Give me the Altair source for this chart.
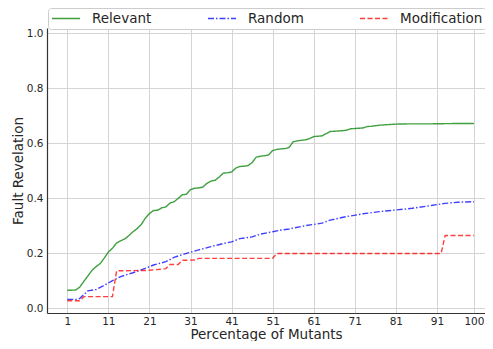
import altair as alt
import pandas as pd

series_names = ["Relevant", "Random", "Modification"]
series_colors = ["#008000", "#0000ff", "#ff0000"]
series_dashes = [[1, 0], [6, 2, 1.5, 2], [5, 2.5]]

x_ticks = [1, 11, 21, 31, 41, 51, 61, 71, 81, 91, 100]
y_ticks = [0.0, 0.2, 0.4, 0.6, 0.8, 1.0]

rel_x = [1, 3, 4, 5, 6, 7, 8, 9, 10, 11, 12, 13, 14, 15, 16, 17, 18, 19, 20,
         21, 22, 23, 24, 25, 26, 27, 28, 29, 30, 31, 32, 33, 34, 35, 36, 37,
         38, 39, 40, 41, 42, 43, 44, 45, 46, 47, 48, 49, 50, 51, 52, 53, 54,
         55, 56, 57, 58, 59, 60, 61, 62, 63, 64, 65, 66, 67, 68, 69, 70, 71,
         72, 73, 74, 75, 76, 77, 78, 79, 80, 81, 85, 90, 95, 100]
rel_y = [0.066, 0.067, 0.077, 0.098, 0.118, 0.138, 0.152, 0.163, 0.183, 0.205,
         0.219, 0.238, 0.246, 0.253, 0.265, 0.279, 0.290, 0.305, 0.328, 0.345,
         0.356, 0.357, 0.366, 0.369, 0.383, 0.388, 0.400, 0.413, 0.415, 0.432,
         0.437, 0.438, 0.441, 0.455, 0.463, 0.466, 0.478, 0.492, 0.493, 0.496,
         0.510, 0.516, 0.517, 0.519, 0.530, 0.550, 0.553, 0.555, 0.558, 0.574,
         0.578, 0.580, 0.581, 0.585, 0.606, 0.609, 0.611, 0.613, 0.617, 0.625,
         0.626, 0.627, 0.635, 0.643, 0.644, 0.645, 0.646, 0.648, 0.653, 0.654,
         0.655, 0.656, 0.661, 0.662, 0.664, 0.666, 0.667, 0.668, 0.669, 0.670,
         0.671, 0.671, 0.672, 0.672]

rnd_x = [1, 3, 4, 5, 6, 8, 10, 12, 14, 17, 19, 22, 25, 27, 30, 33, 36, 39, 41,
         43, 46, 48, 51, 53, 55, 59, 63, 65, 69, 73, 77, 81, 85, 89, 93, 96, 100]
rnd_y = [0.033, 0.033, 0.036, 0.050, 0.064, 0.069, 0.084, 0.101, 0.116, 0.130,
         0.140, 0.158, 0.170, 0.186, 0.200, 0.213, 0.225, 0.236, 0.242, 0.254,
         0.260, 0.270, 0.279, 0.285, 0.289, 0.301, 0.310, 0.321, 0.334, 0.344,
         0.352, 0.358, 0.364, 0.373, 0.382, 0.386, 0.388]

mod_x = [1, 4, 5, 12, 13, 20, 24, 25, 26, 28, 29, 32, 33, 51, 52, 92, 93, 100]
mod_y = [0.028, 0.028, 0.043, 0.043, 0.137, 0.138, 0.143, 0.145, 0.160, 0.160,
         0.175, 0.176, 0.182, 0.182, 0.200, 0.200, 0.265, 0.265]

rows = []
for name, xs, ys in [("Relevant", rel_x, rel_y), ("Random", rnd_x, rnd_y),
                     ("Modification", mod_x, mod_y)]:
    for xv, yv in zip(xs, ys):
        rows.append({"pct": xv, "fr": yv, "series": name})
df = pd.DataFrame(rows)

legend = alt.Legend(
    orient="none", legendX=1, legendY=-20, direction="horizontal", title=None,
    symbolType="stroke", symbolSize=784, symbolStrokeWidth=1.4,
    symbolOpacity=0.75, labelFontSize=13.5, labelFont="DejaVu Sans",
    labelColor="#262626", labelOffset=11, columnPadding=55, clipHeight=15,
    strokeColor="#cccccc", padding=3, cornerRadius=3, fillColor="white",
)

chart = alt.Chart(df).mark_line(strokeWidth=1.4, opacity=0.75).encode(
    x=alt.X("pct:Q",
            scale=alt.Scale(domain=[-3.94, 102.7], nice=False, zero=False),
            axis=alt.Axis(values=x_ticks, title="Percentage of Mutants",
                          labelPadding=3, titleBaseline="alphabetic",
                          titleY=25)),
    y=alt.Y("fr:Q",
            scale=alt.Scale(domain=[-0.0164, 1.0192], nice=False, zero=False),
            axis=alt.Axis(values=y_ticks, format=".1f",
                          title="Fault Revelation", titlePadding=1,
                          labelPadding=4)),
    color=alt.Color("series:N",
                    scale=alt.Scale(domain=series_names, range=series_colors),
                    legend=legend),
    strokeDash=alt.StrokeDash("series:N",
                              scale=alt.Scale(domain=series_names,
                                              range=series_dashes),
                              legend=legend),
    order=alt.Order("pct:Q"),
).properties(
    width=438, height=285,
    autosize=alt.AutoSizeParams(type="none"),
    padding={"left": 39, "top": 20, "right": 0, "bottom": 28},
).configure_view(
    strokeWidth=0
).configure_axis(
    grid=True, gridColor="#d4d4d4", gridWidth=1,
    domainColor="#333333", domainWidth=1.2, tickSize=0,
    labelFont="DejaVu Sans", labelFontSize=10.5, labelColor="#262626",
    titleFont="DejaVu Sans", titleFontSize=13.5,
    titleColor="#262626", titleFontWeight="normal",
)

chart.save("out.html", embed_options={"renderer": "svg", "actions": False})
